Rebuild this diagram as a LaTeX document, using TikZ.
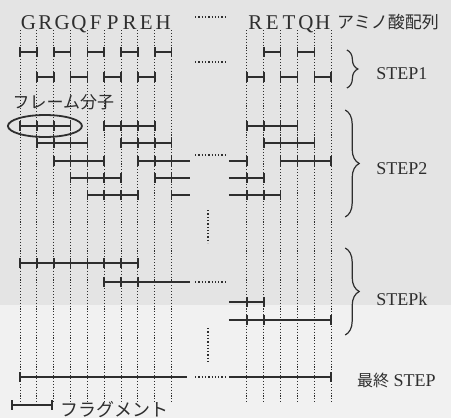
\documentclass[tikz,border=0pt]{standalone}
\usepackage{fontspec}
\setmainfont{Liberation Serif}
\newfontfamily\jafont{Noto Sans CJK JP}
\usetikzlibrary{decorations.pathreplacing}

\definecolor{ink}{HTML}{2E2E2E}
\definecolor{bgtop}{HTML}{E4E4E4}
\definecolor{bglow}{HTML}{F1F1F1}

\tikzset{
	fragline/.style={ink, line width=1.6pt},
	gridline/.style={ink, line width=1pt, dash pattern=on 1.1pt off 1.8pt},
	gapdots/.style={ink, line width=1.3pt, dash pattern=on 1.3pt off 2pt},
	stepbrace/.style={ink, line width=1.2pt, decorate, decoration={brace, amplitude=#1}},
	stepbrace/.default=14pt,
	letter/.style={ink, font=\fontsize{21}{21}\selectfont, anchor=base, inner sep=0pt},
	steplabel/.style={ink, font=\fontsize{18}{18}\selectfont, inner sep=0pt},
	jalabel/.style={ink, font=\jafont\fontsize{17}{17}\selectfont, inner sep=0pt}
}

% one fragment row piece: y, from, to, tick positions
\newcommand{\frag}[4]{%
	\draw[fragline] (#2,#1) -- (#3,#1);
	\foreach \tk in {#4} \draw[fragline] (\tk,#1-5) -- (\tk,#1+5);%
}

\begin{document}
\begin{tikzpicture}[x=16.85pt, y=-1pt]
	\def\R{13.47}
	\useasboundingbox (-1.187,0) rectangle (25.579,418);
	\fill[bgtop] (-1.187,0) rectangle (25.579,305);
	\fill[bglow] (-1.187,305) rectangle (25.579,418);

	% residue boundaries
	\foreach \i in {0,...,9} \draw[gridline] (\i,30) -- (\i,402);
	\foreach \j in {0,...,5} \draw[gridline] (\R+\j,30) -- (\R+\j,402);

	% amino acid sequence
	\foreach \a [count=\i from 0] in {G,R,G,Q,F,P,R,E,H}
		\node[letter] (aa\i) at (\i+0.5,29) {\a};
	\foreach \a [count=\j from 0] in {R,E,T,Q,H}
		\node[letter] (ab\j) at (\R+\j+0.5,29) {\a};
	\node[jalabel, anchor=west] (seq) at (18.81,22) {アミノ酸配列};

	% STEP1
	\foreach \i in {0,2,...,8} \frag{52}{\i}{\i+1}{\i,\i+1};
	\foreach \i in {1,3,...,7} \frag{77}{\i}{\i+1}{\i,\i+1};

	% STEP2
	\frag{126}{0}{3}{0,...,3}   \frag{126}{5}{8}{5,...,8}
	\frag{143}{1}{4}{1,...,4}   \frag{143}{6}{9}{6,...,9}
	\frag{161}{2}{5}{2,...,5}   \frag{161}{7}{10.09}{7,8,9}
	\frag{178}{3}{6}{3,...,6}   \frag{178}{8}{10.09}{8,9}
	\frag{195}{4}{7}{4,...,7}   \frag{195}{9}{10.09}{9}

	% STEPk and last step
	\frag{263}{0}{7}{0,...,7}
	\frag{282}{5}{10.09}{5,6,7}
	\frag{377}{0}{9.91}{0}

	\begin{scope}[shift={(\R,0)}]
		\foreach \j in {1,3} \frag{52}{\j}{\j+1}{\j,\j+1};
		\foreach \j in {0,2,4} \frag{77}{\j}{\j+1}{\j,\j+1};
		\frag{126}{0}{3}{0,...,3}
		\frag{143}{1}{4}{1,...,4}
		\frag{161}{-1.07}{0}{0}   \frag{161}{2}{5}{2,...,5}
		\frag{178}{-1.07}{1}{0,1}
		\frag{195}{-1.07}{2}{0,1,2}
		\frag{302}{-1.07}{1}{0,1}
		\frag{320}{-1.07}{5}{0,1,5}
		\frag{377}{-1.07}{5}{5}
	\end{scope}

	% omitted parts
	\foreach \y in {17,62,155,282,377} \draw[gapdots] (10.39,\y) -- (12.17,\y);
	\draw[gapdots] (11.16,210) -- (11.16,243);
	\draw[gapdots] (11.16,328) -- (11.16,362);

	% frame molecule
	\node[jalabel] (frame) at (2.58,102) {フレーム分子};
	\draw[ink, line width=1.8pt] (1.48,126) ellipse [x radius=37pt, y radius=11pt];

	% steps
	\draw[stepbrace=11pt] (19.4,50) -- (19.4,88);
	\node[steplabel] (s1) at (22.67,74) {STEP1};
	\draw[stepbrace] (19.3,110) -- (19.3,217);
	\node[steplabel] (s2) at (22.67,169) {STEP2};
	\draw[stepbrace] (19.3,248) -- (19.3,335);
	\node[steplabel] (sk) at (22.67,299) {STEPk};
	\node[steplabel] (sf) at (22.33,380) {{\jafont\fontsize{16}{16}\selectfont 最終} STEP};

	% legend
	\frag{405}{-0.475}{1.90}{-0.475,1.90}
	\node[jalabel, font=\jafont\fontsize{18}{18}\selectfont, anchor=west] (fraglabel) at (2.38,410) {フラグメント};
\end{tikzpicture}
\end{document}
